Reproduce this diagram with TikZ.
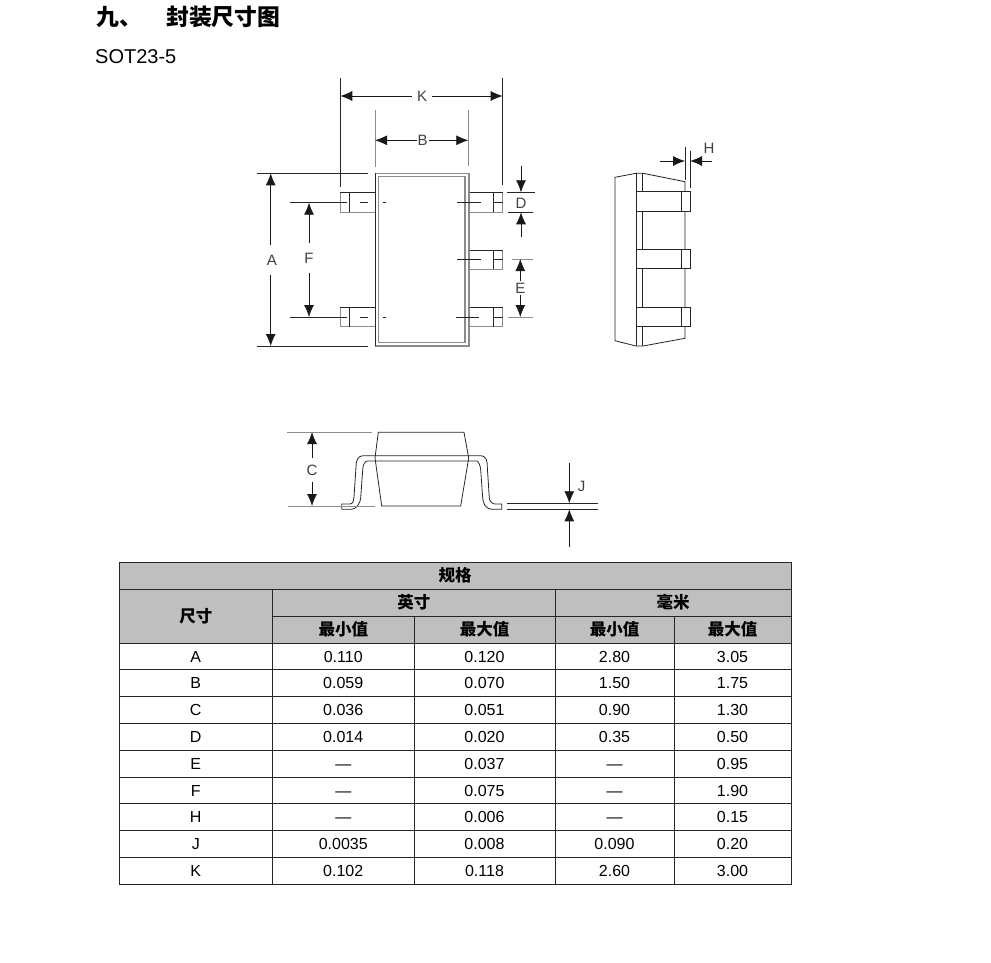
\documentclass[tikz,border=0pt]{standalone}
\usepackage{fontspec}
\setmainfont{Liberation Sans}
\newfontfamily\cjk{Noto Sans CJK SC}
\usetikzlibrary{arrows.meta}

\begin{document}
\begin{tikzpicture}[x = 1pt, y = -1pt, font=\rmfamily]
	\tikzstyle{thinLine}=[draw = black!85, line width = 0.8pt]
	\tikzstyle{grayLine}=[draw = black!45, line width = 0.9pt]
	\tikzstyle{pinBox}=[draw = black!45, line width = 0.9pt, fill = white]
	\tikzstyle{dimArrow}=[draw = black!90, line width = 0.8pt, -{Latex[length = 12pt, width = 10pt]}]
	\tikzstyle{dimLabel}=[font = \fontsize{15}{16}\selectfont, text = black!75, inner sep = 2pt, text height = 10.5pt, text depth = 0pt]
	\tikzstyle{titleStyle}=[font = \fontsize{22.8}{26}\selectfont\cjk\bfseries, anchor = west, inner sep = 0pt]
	\tikzstyle{headStyle}=[font = \fontsize{16.5}{18}\selectfont\cjk\bfseries, inner sep = 0pt]
	\tikzstyle{cellStyle}=[font = \fontsize{16}{18}\selectfont, inner sep = 0pt, text height = 11.5pt, text depth = 0pt]
	\useasboundingbox (0, 0) rectangle (991, 963);

	\node[titleStyle] (t0) at (96, 17) {九、};
	\node[titleStyle] (t1) at (166, 17) {封装尺寸图};
	\node[anchor = west, inner sep = 0pt, font = \fontsize{20}{22}\selectfont] (t2) at (95, 57) {SOT23-5};

	\draw[pinBox] (340.3, 192.3) rectangle (375.3, 212);
	\draw[pinBox] (340.3, 307.3) rectangle (375.3, 326.7);
	\draw[pinBox] (469, 192.3) rectangle (502.7, 212);
	\draw[pinBox] (469, 250) rectangle (502.7, 269.3);
	\draw[pinBox] (469, 307.3) rectangle (502.7, 326.7);
	\draw[thinLine] (340.3, 192.3) -- (375.3, 192.3);
	\draw[thinLine] (340.3, 307.3) -- (375.3, 307.3);
	\draw[thinLine] (469, 192.3) -- (502.7, 192.3);
	\draw[thinLine] (469, 250) -- (502.7, 250);
	\draw[thinLine] (469, 307.3) -- (502.7, 307.3);
	\draw[thinLine] (349, 192.3) -- (349, 212);
	\draw[thinLine] (349, 307.3) -- (349, 326.7);
	\draw[thinLine] (493.3, 192.3) -- (493.3, 212);
	\draw[thinLine] (493.3, 250) -- (493.3, 269.3);
	\draw[thinLine] (493.3, 307.3) -- (493.3, 326.7);

	\draw[grayLine, fill = white, line width = 1.2pt] (375.3, 173.3) rectangle (469, 346);
	\draw[grayLine, line width = 1.2pt] (378.3, 176.7) rectangle (465, 342.7);
	\draw[thinLine, line width = 1pt] (375.3, 173.3) -- (375.3, 346);

	\draw[thinLine] (360, 202.7) -- (368, 202.7);
	\draw[thinLine] (382.7, 202.7) -- (386, 202.7);
	\draw[thinLine] (360, 317) -- (368, 317);
	\draw[thinLine] (382.7, 317) -- (386, 317);
	\draw[thinLine] (457.3, 202.7) -- (480.7, 202.7);
	\draw[thinLine] (457.3, 259) -- (480.7, 259);
	\draw[thinLine] (456, 317) -- (479.3, 317);
	\draw[thinLine] (493.3, 202.7) -- (502.7, 202.7);
	\draw[thinLine] (493.3, 259) -- (502.7, 259);
	\draw[thinLine] (493.3, 317) -- (502.7, 317);

	\draw[thinLine] (256.7, 173.3) -- (368, 173.3);
	\draw[thinLine] (256.7, 346) -- (368, 346);
	\draw[thinLine] (290, 202.7) -- (346.7, 202.7);
	\draw[thinLine] (290, 317) -- (346.7, 317);
	\draw[thinLine] (340.3, 78) -- (340.3, 186.7);
	\draw[thinLine] (502.7, 78) -- (502.7, 185);
	\draw[grayLine] (375, 110) -- (375, 166.7);
	\draw[grayLine] (468.3, 110) -- (468.3, 165.7);
	\draw[thinLine] (506.7, 192.3) -- (535, 192.3);
	\draw[thinLine] (508, 212.3) -- (533, 212.3);
	\draw[grayLine] (511.7, 259) -- (532.7, 259);
	\draw[grayLine] (508, 317) -- (533, 317);

	\node[dimLabel, inner ysep = 10pt] (a) at (272, 260) {A};
	\coordinate (a0) at (270.7, 173.3);
	\coordinate (a1) at (270.7, 346);
	\draw[dimArrow] (a.north -| a0) -- (a0);
	\draw[dimArrow] (a.south -| a1) -- (a1);

	\node[dimLabel, inner ysep = 10pt] (f) at (309, 258) {F};
	\coordinate (f0) at (309, 202.7);
	\coordinate (f1) at (309, 317);
	\draw[dimArrow] (f) -- (f0);
	\draw[dimArrow] (f) -- (f1);

	\node[dimLabel, inner xsep = 5pt] (k) at (422, 96) {K};
	\coordinate (k0) at (340.3, 96);
	\coordinate (k1) at (502.7, 96);
	\draw[dimArrow] (k) -- (k0);
	\draw[dimArrow] (k) -- (k1);

	\node[dimLabel, inner xsep = 1pt] (b) at (422.7, 140.3) {B};
	\coordinate (b0) at (375, 140.3);
	\coordinate (b1) at (468.3, 140.3);
	\draw[dimArrow] (b) -- (b0);
	\draw[dimArrow] (b) -- (b1);

	\node[dimLabel] (d) at (521, 203) {D};
	\coordinate (d0) at (521, 166);
	\coordinate (d1) at (521, 192.3);
	\coordinate (d2) at (521, 236.7);
	\coordinate (d3) at (521, 212.3);
	\draw[dimArrow] (d0) -- (d1);
	\draw[dimArrow] (d2) -- (d3);

	\node[dimLabel] (e) at (520.3, 288) {E};
	\coordinate (e0) at (520.3, 259);
	\coordinate (e1) at (520.3, 317);
	\draw[dimArrow] (e) -- (e0);
	\draw[dimArrow] (e) -- (e1);

	\draw[thinLine] (615, 177.3) -- (636, 173.3) -- (643, 173.3) -- (685, 181.7) -- (685, 338.3) -- (643, 346) -- (636, 346) -- (615, 340.7) -- cycle;
	\draw[thinLine] (636, 173.3) -- (636, 346);
	\draw[thinLine] (642.7, 173.3) -- (642.7, 346);
	\draw[thinLine, fill = white] (636.7, 191) rectangle (681.7, 211.7);
	\draw[thinLine, fill = white] (681.7, 191) rectangle (690.7, 211.7);
	\draw[thinLine, fill = white] (636.7, 249.3) rectangle (681.7, 268.7);
	\draw[thinLine, fill = white] (681.7, 249.3) rectangle (690.7, 268.7);
	\draw[thinLine, fill = white] (636.7, 307) rectangle (681.7, 326.7);
	\draw[thinLine, fill = white] (681.7, 307) rectangle (690.7, 326.7);
	\draw[thinLine] (685, 146.7) -- (685, 180);
	\draw[thinLine] (690, 150.7) -- (690, 188);
	\node[dimLabel] (h) at (709, 148) {H};
	\coordinate (h0) at (660, 161);
	\coordinate (h1) at (685, 161);
	\coordinate (h2) at (711.7, 161);
	\coordinate (h3) at (690, 161);
	\draw[dimArrow] (h0) -- (h1);
	\draw[dimArrow] (h2) -- (h3);

	\draw[thinLine] (378.3, 432.3) -- (464, 432.3) -- (468.7, 458) -- (460.7, 506) -- (381.7, 506) -- (375, 458) -- cycle;
	\draw[thinLine] (363.3, 455.7) -- (480, 455.7) .. controls (487, 455.7) and (487.3, 462) .. (487.3, 467) -- (489.3, 498) .. controls (489.5, 502) and (493, 504) .. (495, 504) -- (501.7, 504) -- (501.7, 509.3) -- (491.7, 509.3) .. controls (486, 509.3) and (482.7, 503) .. (482.7, 498) -- (480.7, 470) .. controls (480.5, 465) and (478, 461) .. (476.7, 461) -- (367.3, 461) .. controls (365, 461) and (362.7, 465) .. (362.7, 470) -- (360.7, 498) .. controls (360.5, 503) and (356, 509.3) .. (351.7, 509.3) -- (341.7, 509.3) -- (341.7, 504) -- (350, 504) .. controls (353, 504) and (354, 500) .. (354, 497) -- (356, 467) .. controls (356, 460) and (358, 455.7) .. (363.3, 455.7);
	\draw[grayLine] (287.3, 432) -- (371.7, 432);
	\draw[grayLine] (288, 506) -- (375, 506);
	\node[dimLabel, inner ysep = 7pt] (c) at (312, 470) {C};
	\coordinate (c0) at (312, 432);
	\coordinate (c1) at (312, 506);
	\draw[dimArrow] (c) -- (c0);
	\draw[dimArrow] (c) -- (c1);
	\draw[thinLine] (506.7, 503.3) -- (598, 503.3);
	\draw[thinLine] (506.7, 509.3) -- (598, 509.3);
	\node[dimLabel] (j) at (581.7, 486) {J};
	\coordinate (j0) at (569.3, 463.3);
	\coordinate (j1) at (569.3, 503.3);
	\coordinate (j2) at (569.3, 547.3);
	\coordinate (j3) at (569.3, 509.3);
	\draw[dimArrow] (j0) -- (j1);
	\draw[dimArrow] (j2) -- (j3);

	\fill[black!25] (119, 562.3) rectangle (791, 643);
	\draw[thinLine] (119, 562.3) rectangle (791, 884);
	\draw[thinLine] (119, 589) -- (791, 589);
	\draw[thinLine] (272.5, 616) -- (791, 616);
	\draw[thinLine] (119, 643) -- (791, 643);
	\draw[thinLine] (119, 669.8) -- (791, 669.8);
	\draw[thinLine] (119, 696.6) -- (791, 696.6);
	\draw[thinLine] (119, 723.4) -- (791, 723.4);
	\draw[thinLine] (119, 750.2) -- (791, 750.2);
	\draw[thinLine] (119, 777) -- (791, 777);
	\draw[thinLine] (119, 803.8) -- (791, 803.8);
	\draw[thinLine] (119, 830.6) -- (791, 830.6);
	\draw[thinLine] (119, 857.4) -- (791, 857.4);
	\draw[thinLine] (272.5, 589) -- (272.5, 884);
	\draw[thinLine] (414, 616) -- (414, 884);
	\draw[thinLine] (555, 589) -- (555, 884);
	\draw[thinLine] (674, 616) -- (674, 884);

	\node[headStyle] (h0c) at (455, 575.5) {规格};
	\node[headStyle] (h1c) at (195.75, 616) {尺寸};
	\node[headStyle] (h2c) at (413.75, 602.5) {英寸};
	\node[headStyle] (h3c) at (673, 602.5) {毫米};
	\node[headStyle] (h4c) at (343.25, 629.5) {最小值};
	\node[headStyle] (h5c) at (484.5, 629.5) {最大值};
	\node[headStyle] (h6c) at (614.5, 629.5) {最小值};
	\node[headStyle] (h7c) at (732.5, 629.5) {最大值};

	\node[cellStyle] (a0c) at (195.75, 656.4) {A};
	\node[cellStyle] (a1c) at (343.25, 656.4) {0.110};
	\node[cellStyle] (a2c) at (484.5, 656.4) {0.120};
	\node[cellStyle] (a3c) at (614.5, 656.4) {2.80};
	\node[cellStyle] (a4c) at (732.5, 656.4) {3.05};
	\node[cellStyle] (b0c) at (195.75, 683.2) {B};
	\node[cellStyle] (b1c) at (343.25, 683.2) {0.059};
	\node[cellStyle] (b2c) at (484.5, 683.2) {0.070};
	\node[cellStyle] (b3c) at (614.5, 683.2) {1.50};
	\node[cellStyle] (b4c) at (732.5, 683.2) {1.75};
	\node[cellStyle] (c0c) at (195.75, 710) {C};
	\node[cellStyle] (c1c) at (343.25, 710) {0.036};
	\node[cellStyle] (c2c) at (484.5, 710) {0.051};
	\node[cellStyle] (c3c) at (614.5, 710) {0.90};
	\node[cellStyle] (c4c) at (732.5, 710) {1.30};
	\node[cellStyle] (d0c) at (195.75, 736.8) {D};
	\node[cellStyle] (d1c) at (343.25, 736.8) {0.014};
	\node[cellStyle] (d2c) at (484.5, 736.8) {0.020};
	\node[cellStyle] (d3c) at (614.5, 736.8) {0.35};
	\node[cellStyle] (d4c) at (732.5, 736.8) {0.50};
	\node[cellStyle] (e0c) at (195.75, 763.6) {E};
	\node[cellStyle] (e1c) at (343.25, 763.6) {—};
	\node[cellStyle] (e2c) at (484.5, 763.6) {0.037};
	\node[cellStyle] (e3c) at (614.5, 763.6) {—};
	\node[cellStyle] (e4c) at (732.5, 763.6) {0.95};
	\node[cellStyle] (f0c) at (195.75, 790.4) {F};
	\node[cellStyle] (f1c) at (343.25, 790.4) {—};
	\node[cellStyle] (f2c) at (484.5, 790.4) {0.075};
	\node[cellStyle] (f3c) at (614.5, 790.4) {—};
	\node[cellStyle] (f4c) at (732.5, 790.4) {1.90};
	\node[cellStyle] (g0c) at (195.75, 817.2) {H};
	\node[cellStyle] (g1c) at (343.25, 817.2) {—};
	\node[cellStyle] (g2c) at (484.5, 817.2) {0.006};
	\node[cellStyle] (g3c) at (614.5, 817.2) {—};
	\node[cellStyle] (g4c) at (732.5, 817.2) {0.15};
	\node[cellStyle] (j0c) at (195.75, 844) {J};
	\node[cellStyle] (j1c) at (343.25, 844) {0.0035};
	\node[cellStyle] (j2c) at (484.5, 844) {0.008};
	\node[cellStyle] (j3c) at (614.5, 844) {0.090};
	\node[cellStyle] (j4c) at (732.5, 844) {0.20};
	\node[cellStyle] (k0c) at (195.75, 870.8) {K};
	\node[cellStyle] (k1c) at (343.25, 870.8) {0.102};
	\node[cellStyle] (k2c) at (484.5, 870.8) {0.118};
	\node[cellStyle] (k3c) at (614.5, 870.8) {2.60};
	\node[cellStyle] (k4c) at (732.5, 870.8) {3.00};
	\end{tikzpicture}
\end{document}
